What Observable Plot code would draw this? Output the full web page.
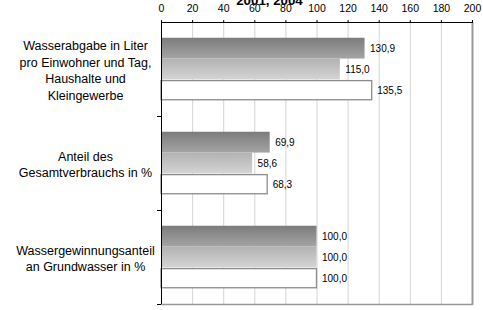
<!DOCTYPE html>
<html>
<head>
<meta charset="utf-8">
<script src="https://cdn.jsdelivr.net/npm/d3@7"></script>
<script src="https://cdn.jsdelivr.net/npm/@observablehq/plot@0.6"></script>
<style>
  html, body { margin: 0; padding: 0; background: white; }
</style>
</head>
<body>
<div id="chart"></div>
<script>
const title = "2001, 2004";
const categories = [
  "Wasserabgabe in Liter\npro Einwohner und Tag,\nHaushalte und\nKleingewerbe",
  "Anteil des\nGesamtverbrauchs in %",
  "Wassergewinnungsanteil\nan Grundwasser in %"
];
const series = ["Reihe 1", "Reihe 2", "Reihe 3"];
const valuesSeries1 = [130.9, 69.9, 100.0];
const valuesSeries2 = [115.0, 58.6, 100.0];
const valuesSeries3 = [135.5, 68.3, 100.0];
const xTicks = [0, 20, 40, 60, 80, 100, 120, 140, 160, 180, 200];
const gridTicks = [20, 40, 60, 80, 100, 120, 140, 160, 180];

const allValues = [valuesSeries1, valuesSeries2, valuesSeries3];
const data = categories.flatMap((c, i) =>
  series.map((s, j) => ({category: c, series: s, value: allValues[j][i]}))
);

const W = 483, H = 310, mT = 22, mB = 6, mL = 161, mR = 11;
const bandH = (H - mT - mB) / categories.length;
const fmt = v => v.toFixed(1).replace(".", ",");
const font = "'Liberation Sans', Arial, Helvetica, sans-serif";

const chart = Plot.plot({
  width: W,
  height: H,
  marginTop: mT,
  marginBottom: mB,
  marginLeft: mL,
  marginRight: mR,
  style: {fontFamily: font, background: "white", color: "black"},
  x: {domain: [0, 200], label: null},
  y: {domain: series, paddingInner: 0, paddingOuter: 0.756, round: false, axis: null, label: null},
  fy: {domain: categories, padding: 0, round: false, label: null},
  color: {domain: series, range: ["url(#gradDark)", "url(#gradLight)", "white"]},
  marks: [
    Plot.ruleX(gridTicks, {stroke: "#d4d4d4", strokeWidth: 1}),
    Plot.ruleX([200], {stroke: "#999", strokeWidth: 2}),
    Plot.frame({anchor: "bottom", fy: categories[2], stroke: "#999", strokeWidth: 1.5}),
    Plot.barX(data, {
      filter: d => d.series !== series[2],
      fy: "category", y: "series", x: "value", fill: "series"
    }),
    Plot.barX(data, {
      filter: d => d.series === series[2],
      fy: "category", y: "series", x: "value", fill: "series",
      stroke: "#8c8c8c", strokeWidth: 1.3, insetTop: 1.2, insetBottom: 0.5
    }),
    Plot.text(data, {
      fy: "category", y: "series", x: "value",
      text: d => fmt(d.value), dx: 5, textAnchor: "start", fontSize: 10, fill: "black"
    }),
    Plot.text(categories, {
      fy: d => d, text: d => d, frameAnchor: "left", dx: -76,
      textAnchor: "middle", fontSize: 12.5, lineHeight: 1.32, fill: "black"
    }),
    Plot.ruleX([0], {stroke: "black", strokeWidth: 1}),
    Plot.frame({anchor: "top", fy: categories[0], stroke: "black"}),
    Plot.axisX({anchor: "top", ticks: xTicks, tickSize: 3, tickPadding: 8, fontSize: 10.5, stroke: "black", fill: "black", label: null}),
    Plot.axisFy({anchor: "left", tickSize: 4, tickPadding: 0, tickFormat: () => "", dy: bandH / 2, stroke: "black", label: null}),
    Plot.text([title], {
      fy: () => categories[0], frameAnchor: "top", lineAnchor: "bottom",
      dy: -17.3, dx: -47.5, fontSize: 13.3, fontWeight: "bold", fill: "black"
    })
  ]
});

const defs = d3.select(chart).insert("defs", ":first-child");
const g1 = defs.append("linearGradient").attr("id", "gradDark").attr("x1", 0).attr("y1", 0).attr("x2", 0).attr("y2", 1);
g1.append("stop").attr("offset", "0%").attr("stop-color", "#7c7c7c");
g1.append("stop").attr("offset", "100%").attr("stop-color", "#a4a4a4");
const g2 = defs.append("linearGradient").attr("id", "gradLight").attr("x1", 0).attr("y1", 0).attr("x2", 0).attr("y2", 1);
g2.append("stop").attr("offset", "0%").attr("stop-color", "#b2b2b2");
g2.append("stop").attr("offset", "100%").attr("stop-color", "#d4d4d4");

document.getElementById("chart").appendChild(chart);
</script>
</body>
</html>
